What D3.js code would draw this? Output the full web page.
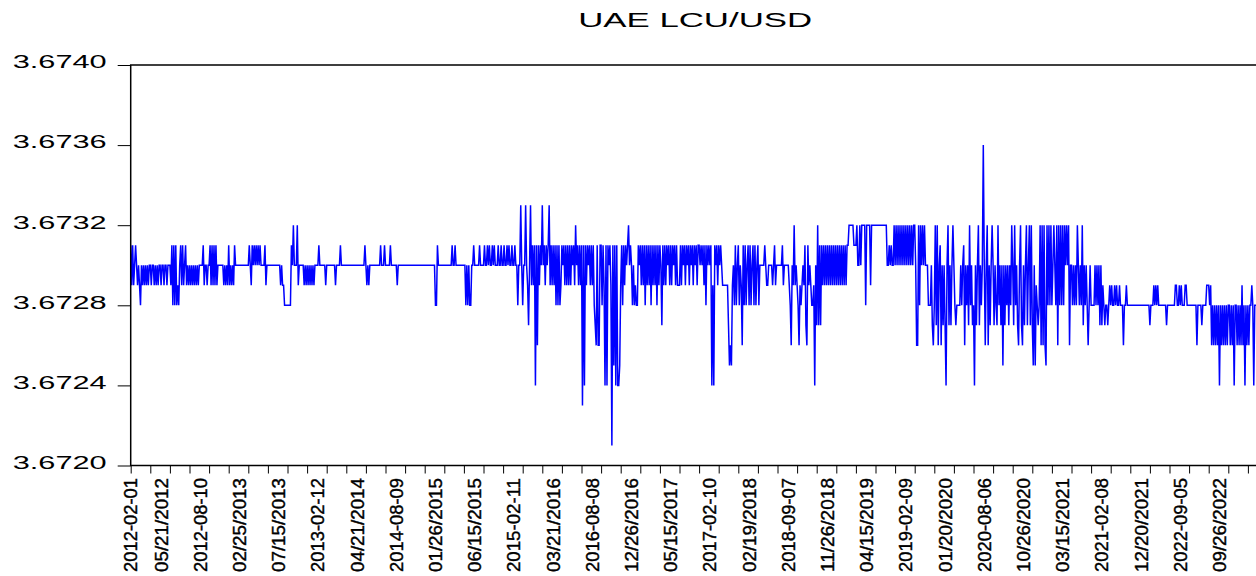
<!DOCTYPE html>
<html>
<head>
<meta charset="utf-8">
<script src="https://cdn.jsdelivr.net/npm/d3@7"></script>
<style>
  body { margin: 0; background: #fff; }
  svg  { display: block; }
</style>
</head>
<body>
<script>
/* UAE LCU/USD, daily fixings.
   One string per tick interval, 20 observations each.
   Each char is the level above 3.6720 in units of 0.0001 (base 17: a = 3.6730, g = 3.6736). */
var obsLevels = [
    "b9b9aba9a98a9a9a9a9a", "a9aa9a9a9aa9aa9aa9aa", "a9b8b8b898ab9b9ab9a9", "a9a9a9a9a9aaaab9aa9a",
    "ab9b9b9b9aaaaaa9a9a9", "b9a9a9baaaaaaaaaaaaa", "aba9bababababaaaab9a", "aaaaaaaaaaaaa9a99888",
    "8888bacaaac9aaaaa9a9", "a9a9a9a9aaaabaaaaaa9", "aaaaaaaaa9aaaabaaaaa", "aaaaaaaaaaaaaaaaaaab",
    "a9a9aaaaaaaaaaabaaab", "aaaaabaaaaaa9aaaaaaa", "aaaaaaaaaaaaaaaaaaaa", "aaaaaaaaaaa88baaaaaa",
    "aaaaaaaabaabaaaaaaaa", "aa8a8a88aabaaaaabaaa", "abaababaababaaabaaba", "abaababaabaabaa8aada",
    "8aada97ad9b9b4b6b9ba", "dab9babd9b9b9b8b8b89", "bab9b9b9b9bab9cab9b9", "b3b4b9bab9b9b876b66b",
    "b8b94b4bab91b5b4b445", "9b8b9babcaba8a8988ba", "b9b9b8b9b9b8b9b9b8b9", "ba7b9b9bab9b9bab9b99",
    "9b9bab9bab9bab9bab9b", "babab9b8babab494bab9", "baba99999975659a8b8a", "b8a96b8b8ab8b8ab8b8a",
    "b8aaaaaba99aaaa9ab9a", "aaaaab9aaaaa986a9c9a", "986989a9b76b9a98894a", "7c7b7b9b9b9b9b9b9b9b",
    "9b9b9b9b9b9bbcccccbb", "bcaacacccc8cccc9cccc", "ccccccccccccaababaac", "acacacacacacacacacac",
    "ca66c8cacacaaa888a76", "8c7c6ab6a7a74ac7a7ac", "a878888a8ab6a8a7c8a7", "84a7ac7a8aga6ac6a7ac",
    "a7a87c8a7a5a7a8a7a8c", "a7c8a76ac76a7ac7ac7c", "75a59878c6c6c65c8c8c", "8aca8c6c8c8c8cacac6a",
    "a8a8a8ca8a8c7a8a868a", "8888a8a8a7a798788789", "89889898898886889888", "88888888888888888888",
    "78889898988888888788", "88888899889898889988", "88888888688887888899", "98968686868486868686",
    "88686848868686968486", "8688984888"
];

var xLabels = [
    "2012-02-01", "05/21/2012", "2012-08-10", "02/25/2013", "07/15/2013", "2013-02-12",
    "04/21/2014", "2014-08-09", "01/26/2015", "06/15/2015", "2015-02-11", "03/21/2016",
    "2016-08-08", "12/26/2016", "05/15/2017", "2017-02-10", "02/19/2018", "2018-09-07",
    "11/26/2018", "04/15/2019", "2019-02-09", "01/20/2020", "2020-08-06", "10/26/2020",
    "03/15/2021", "2021-02-08", "12/20/2021", "2022-09-05", "09/26/2022"
];

var yTicks = [3.6720, 3.6724, 3.6728, 3.6732, 3.6736, 3.6740];

var title = "UAE LCU/USD";

var font       = "'Liberation Sans', Arial, sans-serif";
var width      = 1256;
var height     = 576;
var plotLeft   = 130.7;
var plotTop    = 65;
var plotBottom = 465.5;
var nSlots     = 1152;            // observation slots across the full frame
var plotRight  = plotLeft + 0.98 * nSlots;

var values = obsLevels.join("").split("")
                      .map((c) => 3.6720 + parseInt(c, 17) / 10000);

var svg = d3.select("body").append("svg")
            .attr("width", width)
            .attr("height", height);

var x = d3.scaleLinear().domain([0, nSlots]).range([plotLeft, plotRight]);
var y = d3.scaleLinear().domain([3.6720, 3.6740]).range([plotBottom, plotTop]);

svg.append("clipPath").attr("id", "plotclip")
   .append("rect")
   .attr("x", plotLeft).attr("y", plotTop)
   .attr("width", plotRight - plotLeft).attr("height", plotBottom - plotTop);

// series
var line = d3.line()
             .x((d, i) => x(i))
             .y((d) => y(d));

svg.append("path")
   .datum(values)
   .attr("clip-path", "url(#plotclip)")
   .attr("d", line)
   .attr("fill", "none")
   .attr("stroke", "#0000ff")
   .attr("stroke-width", 1.5);

// left axis
svg.append("g")
   .attr("transform", "translate(" + plotLeft + ",0)")
   .call(d3.axisLeft(y)
           .tickValues(yTicks)
           .tickSize(13)
           .tickPadding(11)
           .tickFormat(d3.format(".4f")))
   .call((g) => g.select(".domain").remove())
   .call((g) => g.selectAll("line").attr("stroke", "#000"))
   .call((g) => g.selectAll("text")
                 .attr("fill", "#000")
                 .attr("font-family", font)
                 .attr("font-size", 18)
                 .attr("dy", "0.16em")
                 .attr("textLength", 94)
                 .attr("lengthAdjust", "spacingAndGlyphs"));

// bottom axis: ticks every 20 slots, labels in between
svg.append("g")
   .attr("transform", "translate(0," + plotBottom + ")")
   .call(d3.axisBottom(x)
           .tickValues(d3.range(0, nSlots + 1, 20))
           .tickSize(8)
           .tickFormat(""))
   .call((g) => g.select(".domain").remove())
   .call((g) => g.selectAll("line").attr("stroke", "#000"));

svg.append("g")
   .selectAll("text")
   .data(xLabels)
   .enter().append("text")
   .attr("transform", (d, i) => "translate(" + x(i === 0 ? 0 : 31 + 40 * (i - 1)) + ",478) rotate(-90)")
   .attr("text-anchor", "end")
   .attr("dy", "0.35em")
   .attr("font-family", font)
   .attr("font-size", 18.5)
   .attr("stroke", "#000")
   .attr("stroke-width", 0.4)
   .attr("textLength", 94)
   .attr("lengthAdjust", "spacingAndGlyphs")
   .text((d) => d);

// frame
svg.append("rect")
   .attr("x", plotLeft).attr("y", plotTop)
   .attr("width", plotRight - plotLeft).attr("height", plotBottom - plotTop)
   .attr("fill", "none")
   .attr("stroke", "#000")
   .attr("stroke-width", 1.5);

svg.append("text")
   .attr("x", (plotLeft + plotRight) / 2)
   .attr("y", 27)
   .attr("text-anchor", "middle")
   .attr("font-family", font)
   .attr("font-size", 20)
   .attr("textLength", 234)
   .attr("lengthAdjust", "spacingAndGlyphs")
   .text(title);
</script>
</body>
</html>
